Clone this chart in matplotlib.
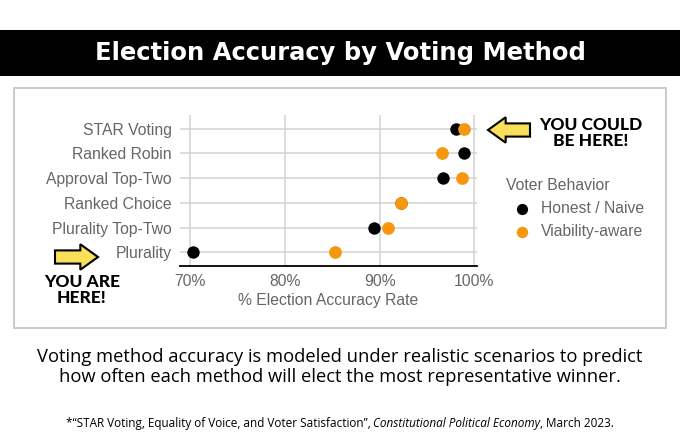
import matplotlib
matplotlib.use('Agg')
import matplotlib.pyplot as plt
from matplotlib.patches import Rectangle, FancyArrow

methods = ['Plurality', 'Plurality Top-Two', 'Ranked Choice', 'Approval Top-Two', 'Ranked Robin', 'STAR Voting']
honest = [70.3, 89.4, 92.3, 96.7, 98.9, 98.1]
viable = [85.3, 90.9, 92.3, 98.7, 96.6, 98.9]
xticks = [70, 80, 90, 100]
xlabels = ['70%', '80%', '90%', '100%']

W, H = 680, 440
fig = plt.figure(figsize=(6.8, 4.4), dpi=100)
fig.patch.set_facecolor('white')

def fx(px): return px / W
def fy(py): return 1 - py / H

# title band
fig.patches.append(Rectangle((0, fy(76)), 1, (76 - 30) / H, transform=fig.transFigure,
                             facecolor='black', edgecolor='none', zorder=0))
fig.text(0.5, fy(53), 'Election Accuracy by Voting Method', ha='center', va='center',
         color='white', fontsize=17.5, fontweight='bold', family='DejaVu Sans')
# panel border
fig.patches.append(Rectangle((fx(14), fy(328)), fx(652), (328 - 88) / H, transform=fig.transFigure,
                             facecolor='white', edgecolor='#cccccc', lw=1.5, zorder=0))

ax = fig.add_axes([fx(180), fy(266), fx(297), (266 - 115) / H])
ax.set_zorder(2)
ax.patch.set_alpha(0)
ys = list(range(len(methods)))
ax.scatter(honest, ys, s=80, color='black', linewidths=0, zorder=3, label='Honest / Naive')
ax.scatter(viable, ys, s=84, color='#f7960f', linewidths=0, zorder=4, label='Viability-aware')
ax.set_xlim(68.9, 100.3)
ax.set_ylim(-0.55, 5.55)
ax.set_yticks(ys)
ax.set_yticklabels(methods)
ax.set_xticks(xticks)
ax.set_xticklabels(xlabels)
ax.grid(True, color='#d5d5d5', lw=1.2, zorder=0)
for s in ['top', 'right', 'left']:
    ax.spines[s].set_visible(False)
ax.spines['bottom'].set_color('black')
ax.spines['bottom'].set_linewidth(1.3)
ax.tick_params(length=0, labelsize=11.3, labelcolor='#666666', pad=6)
ax.set_xlabel('% Election Accuracy Rate', fontsize=11.3, color='#666666', labelpad=3)
for t in ax.get_xticklabels() + ax.get_yticklabels():
    t.set_family('Liberation Sans')
ax.xaxis.label.set_family('Liberation Sans')

leg = fig.legend(loc='upper left', bbox_to_anchor=(fx(492), fy(164)), frameon=False,
                 title='Voter Behavior', prop={'family': 'Liberation Sans', 'size': 11.3},
                 handletextpad=0.2, labelspacing=0.5, markerscale=0.9)
leg.get_title().set_color('#666666')
leg.get_title().set_fontsize(11.3)
leg.get_title().set_family('Liberation Sans')
leg._legend_box.align = 'left'
for t in leg.get_texts():
    t.set_color('#666666')

# arrows
fig.patches.append(FancyArrow(fx(530), fy(130), fx(488) - fx(530), 0, width=0.03,
                              head_width=0.058, head_length=0.026, length_includes_head=True,
                              transform=fig.transFigure, facecolor='#f8e05a', edgecolor='black',
                              lw=1.5, zorder=3))
fig.patches.append(FancyArrow(fx(55), fy(257), fx(98) - fx(55), 0, width=0.03,
                              head_width=0.058, head_length=0.026, length_includes_head=True,
                              transform=fig.transFigure, facecolor='#f8e05a', edgecolor='black',
                              lw=1.5, zorder=3))
fig.text(fx(591), fy(133), 'YOU COULD\nBE HERE!', ha='center', va='center', fontsize=12.5,
         fontweight='black', family='Lato', linespacing=1.05)
fig.text(fx(82), fy(290), 'YOU ARE\nHERE!', ha='center', va='center', fontsize=12.5,
         fontweight='black', family='Lato', linespacing=1.05)

fig.text(0.5, fy(367), 'Voting method accuracy is modeled under realistic scenarios to predict\n'
         'how often each method will elect the most representative winner.',
         ha='center', va='center', fontsize=13.2, family='Open Sans', linespacing=1.12)

# footnote with italic journal name
parts = [('*\u201cSTAR Voting, Equality of Voice, and Voter Satisfaction\u201d, ', 'normal'),
         ('Constitutional Political Economy', 'italic'),
         (', March 2023.', 'normal')]
r = fig.canvas.get_renderer()
texts = [fig.text(0, fy(423), s, fontsize=8.5, style=st, family='Open Sans', va='center') for s, st in parts]
widths = [t.get_window_extent(r).width for t in texts]
x0 = (W - sum(widths)) / 2
for t, w in zip(texts, widths):
    t.set_x(x0 / W)
    x0 += w

fig.savefig('out.png', dpi=100, facecolor='white')
